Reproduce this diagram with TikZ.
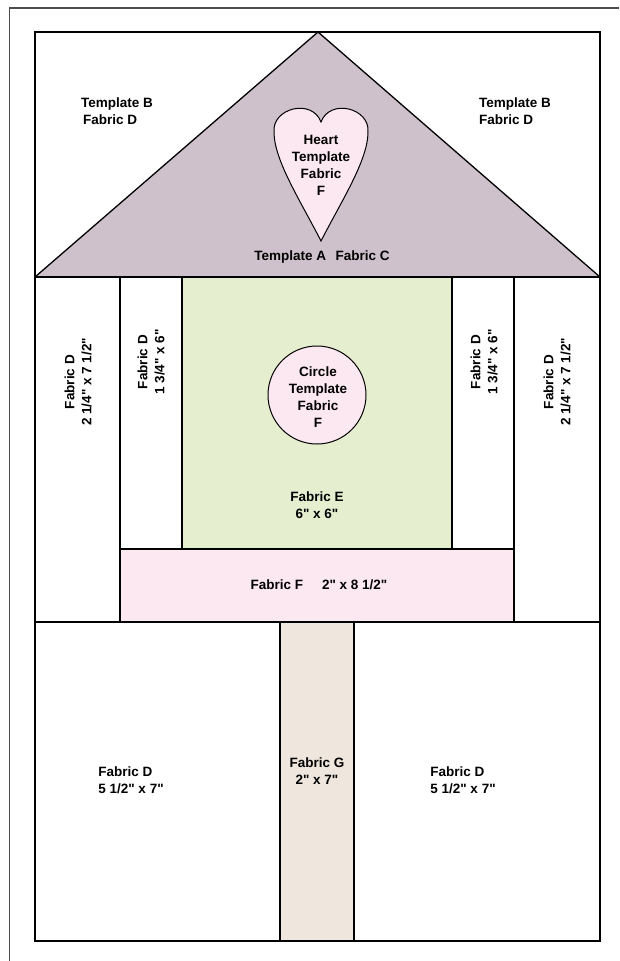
\documentclass[tikz,border=0pt]{standalone}
\usepackage{fontspec}
\newfontfamily\labelfont{Liberation Sans}
\definecolor{roof}{HTML}{CEC1CC}
\definecolor{rose}{HTML}{FCE8F0}
\definecolor{leaf}{HTML}{E5EFD0}
\definecolor{post}{HTML}{EFE7DD}
\begin{document}
\begin{tikzpicture}[x=1pt,y=-1pt,line width=1.3pt,
  lbl/.style={font=\labelfont\bfseries\fontsize{13.5}{17}\selectfont, align=center, inner sep=0pt},
  side/.style={lbl, rotate=90}]
\useasboundingbox (0,0) rectangle (619,961);
\draw[line width=1.6pt, black!70] (9.5,961) -- (9.5,8) -- (619,8);
% roof
\fill[roof] (35,277) -- (318,32) -- (600,277) -- cycle;
\draw (35,32) rectangle (600,277);
\draw (35,277) -- (318,32) -- (600,277);
\draw[line width=1pt, fill=rose] (321,241) .. controls (300,200) and (274,160) .. (274,132)
  .. controls (272,108) and (312,98) .. (321,122)
  .. controls (330,98) and (370,108) .. (368,132)
  .. controls (368,160) and (342,200) .. (321,241) -- cycle;
% walls
\draw (35,277) rectangle (120,622);
\draw (514,277) rectangle (600,622);
\draw[fill=leaf] (182,277) rectangle (452,549);
\foreach \xa/\xb in {120/182,452/514}
\draw (\xa,277) rectangle (\xb,549);
\draw[fill=rose] (120,549) rectangle (514,622);
\draw[line width=1pt, fill=rose] (317,395) circle (49);
% ground and post
\draw (35,622) rectangle (600,941);
\draw[fill=post] (280,622) rectangle (354,941);
% labels
\node[lbl, align=left] (tplBl) at (117,111) {Template B\\\hspace{2pt}Fabric D};
\node[lbl, align=left] (tplBr) at (515,111) {Template B\\Fabric D};
\node[lbl] (heartLbl) at (321,165) {Heart\\Template\\Fabric\\F};
\node[lbl] (roofLbl) at (322,257) {Template A\hspace{0.7em}Fabric C};
\node[lbl] (circLbl) at (318,397) {Circle\\Template\\Fabric\\F};
\node[lbl] (fabE) at (317,505) {Fabric E\\6" x 6"};
\node[side] (sideL) at (78,382) {Fabric D\\2 1/4" x 7 1/2"};
\node[side] (stripL) at (151,362) {Fabric D\\1 3/4" x 6"};
\node[side] (stripR) at (484,362) {Fabric D\\1 3/4" x 6"};
\node[side] (sideR) at (557,382) {Fabric D\\2 1/4" x 7 1/2"};
\node[lbl] (fabF) at (319,585) {Fabric F\hspace{1.4em}2" x 8 1/2"};
\node[lbl, align=left] (yardL) at (131,780) {Fabric D\\5 1/2" x 7"};
\node[lbl] (fabG) at (317,771) {Fabric G\\2" x 7"};
\node[lbl, align=left] (yardR) at (463,780) {Fabric D\\5 1/2" x 7"};
\end{tikzpicture}
\end{document}
